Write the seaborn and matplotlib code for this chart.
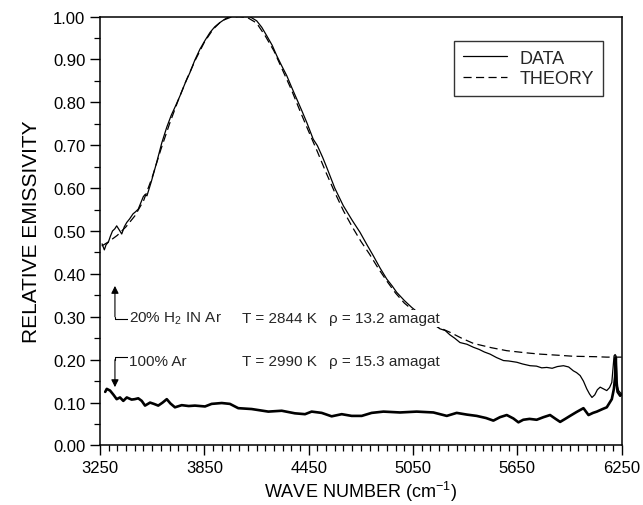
import numpy as np
import pandas as pd
import matplotlib
matplotlib.use("Agg")
import matplotlib.pyplot as plt
import seaborn as sns
from matplotlib.ticker import MultipleLocator, FormatStrFormatter

# ---------------- data ----------------
data_x = [3262, 3275, 3285, 3298, 3310, 3322, 3335, 3346, 3360, 3375, 3390, 3404, 3420, 3440, 3455,
          3470, 3485, 3499, 3509, 3520, 3545, 3576, 3605, 3634, 3660, 3685, 3710, 3740, 3768, 3795,
          3825, 3855, 3883, 3910, 3940, 3965, 3985, 4000, 4040, 4090, 4110, 4151, 4180, 4209, 4240,
          4266, 4295, 4324, 4352, 4381, 4410, 4439, 4476, 4500, 4530, 4554, 4600, 4649, 4700, 4745,
          4785, 4822, 4860, 4899, 4930, 4956, 5000, 5042, 5100, 5160, 5205, 5235, 5262, 5290, 5320,
          5360, 5397, 5430, 5460, 5493, 5530, 5570, 5600, 5647, 5680, 5723, 5760, 5790, 5819, 5850,
          5880, 5915, 5945, 5972, 5990, 6011, 6030, 6049, 6065, 6079, 6095, 6110, 6126, 6145, 6164,
          6180, 6193, 6200, 6206, 6212, 6217, 6221, 6224, 6232, 6240, 6250]
data_y = [0.470, 0.456, 0.468, 0.474, 0.488, 0.500, 0.505, 0.512, 0.503, 0.493, 0.510, 0.520, 0.528, 0.540, 0.545,
          0.551, 0.566, 0.580, 0.585, 0.582, 0.615, 0.660, 0.705, 0.742, 0.770, 0.792, 0.815, 0.845, 0.870, 0.898,
          0.924, 0.945, 0.963, 0.976, 0.986, 0.993, 0.998, 1.000, 1.000, 1.000, 1.000, 0.990, 0.975, 0.955, 0.933,
          0.909, 0.885, 0.862, 0.835, 0.808, 0.781, 0.753, 0.714, 0.699, 0.672, 0.648, 0.600, 0.559, 0.525, 0.497,
          0.468, 0.442, 0.414, 0.388, 0.372, 0.357, 0.338, 0.322, 0.303, 0.285, 0.272, 0.268, 0.258, 0.250, 0.240,
          0.236, 0.229, 0.224, 0.218, 0.213, 0.205, 0.198, 0.197, 0.194, 0.190, 0.186, 0.185, 0.181, 0.182, 0.180,
          0.184, 0.186, 0.183, 0.174, 0.170, 0.163, 0.150, 0.132, 0.120, 0.112, 0.118, 0.130, 0.136, 0.132, 0.128,
          0.135, 0.147, 0.180, 0.209, 0.212, 0.209, 0.170, 0.139, 0.128, 0.124, 0.120]

theory_x = [3260, 3300, 3350, 3400, 3450, 3500, 3550, 3600, 3650, 3700, 3750, 3800, 3850, 3900, 3950,
            4000, 4050, 4100, 4150, 4200, 4250, 4300, 4350, 4400, 4450, 4500, 4550, 4600, 4650, 4700,
            4750, 4800, 4850, 4900, 4950, 5000, 5050, 5100, 5150, 5200, 5262, 5330, 5397, 5500, 5589,
            5700, 5780, 5900, 5972, 6100, 6164, 6250]
theory_y = [0.465, 0.475, 0.490, 0.510, 0.535, 0.570, 0.625, 0.690, 0.750, 0.805, 0.855, 0.900, 0.940, 0.970, 0.990,
            0.998, 1.000, 0.997, 0.985, 0.955, 0.920, 0.875, 0.830, 0.780, 0.732, 0.685, 0.636, 0.590, 0.547, 0.510,
            0.476, 0.446, 0.413, 0.383, 0.355, 0.332, 0.315, 0.300, 0.287, 0.275, 0.264, 0.250, 0.238, 0.228, 0.221,
            0.216, 0.213, 0.210, 0.208, 0.207, 0.206, 0.206]

ar_x = [3280, 3289, 3308, 3328, 3346, 3365, 3384, 3404, 3432, 3450, 3470, 3490, 3509, 3538, 3560,
        3585, 3610, 3634, 3655, 3681, 3720, 3760, 3796, 3854, 3892, 3950, 3997, 4045, 4122, 4218,
        4295, 4371, 4429, 4467, 4525, 4582, 4640, 4697, 4755, 4812, 4880, 4975, 5071, 5167, 5244,
        5301, 5360, 5416, 5470, 5512, 5550, 5589, 5627, 5656, 5684, 5720, 5761, 5800, 5838, 5870,
        5896, 5925, 5953, 5990, 6030, 6059, 6085, 6107, 6140, 6164, 6193, 6205, 6212, 6216, 6220,
        6226, 6241, 6250]
ar_y = [0.125, 0.132, 0.128, 0.118, 0.108, 0.112, 0.104, 0.112, 0.107, 0.108, 0.110, 0.104, 0.093, 0.100, 0.097,
        0.093, 0.100, 0.108, 0.098, 0.089, 0.094, 0.092, 0.093, 0.091, 0.097, 0.099, 0.097, 0.087, 0.085, 0.079,
        0.081, 0.075, 0.073, 0.079, 0.076, 0.068, 0.073, 0.069, 0.069, 0.076, 0.079, 0.077, 0.079, 0.077, 0.069,
        0.076, 0.072, 0.069, 0.064, 0.058, 0.066, 0.071, 0.063, 0.054, 0.060, 0.062, 0.060, 0.066, 0.071, 0.062,
        0.055, 0.062, 0.069, 0.078, 0.087, 0.071, 0.076, 0.079, 0.085, 0.089, 0.108, 0.132, 0.160, 0.205, 0.150,
        0.125, 0.116, 0.120]

x_ticks = [3250, 3850, 4450, 5050, 5650, 6250]
y_ticks = [0.00, 0.10, 0.20, 0.30, 0.40, 0.50, 0.60, 0.70, 0.80, 0.90, 1.00]

# ---------------- style ----------------
sns.set_theme(style="ticks")
plt.rcParams['font.family'] = ['Liberation Sans', 'DejaVu Sans']
plt.rcParams['mathtext.fontset'] = 'custom'
plt.rcParams['mathtext.rm'] = 'Liberation Sans'
plt.rcParams['mathtext.it'] = 'Liberation Sans'
plt.rcParams['mathtext.default'] = 'regular'

fig = plt.figure(figsize=(6.43, 5.06), dpi=100)
ax = fig.add_axes([0.1555, 0.1176, 0.9669 - 0.1555, 0.9654 - 0.1176])

df_data = pd.DataFrame({"x": data_x, "y": data_y})
df_theory = pd.DataFrame({"x": theory_x, "y": theory_y})
df_ar = pd.DataFrame({"x": ar_x, "y": ar_y})

sns.lineplot(data=df_data, x="x", y="y", ax=ax, color="black", lw=0.9,
             sort=False, estimator=None, label="DATA", zorder=3)
sns.lineplot(data=df_theory, x="x", y="y", ax=ax, color="black", lw=0.9,
             sort=False, estimator=None, label="THEORY", zorder=2,
             linestyle=(0, (6.5, 3.5)))
sns.lineplot(data=df_ar, x="x", y="y", ax=ax, color="black", lw=1.9,
             sort=False, estimator=None, zorder=3)

ax.set_xlim(3250, 6250)
ax.set_ylim(0.0, 1.0)
ax.set_xticks(x_ticks)
ax.set_yticks(y_ticks)
ax.xaxis.set_minor_locator(MultipleLocator(50))
ax.yaxis.set_minor_locator(MultipleLocator(0.05))
ax.yaxis.set_major_formatter(FormatStrFormatter('%.2f'))
ax.tick_params(axis='both', which='major', direction='out', length=7, width=1.0,
               labelsize=12, color='black', labelcolor='black')
ax.tick_params(axis='both', which='minor', direction='out', length=4, width=0.9, color='black')
for s in ax.spines.values():
    s.set_visible(True)
    s.set_color('black')
    s.set_linewidth(1.1)

ax.set_xlabel("WAVE NUMBER (cm$^{-1}$)", fontsize=13, color='black', labelpad=3)
ax.set_ylabel("RELATIVE EMISSIVITY", fontsize=15, color='black', labelpad=9)

leg = ax.legend(loc='upper right', bbox_to_anchor=(0.964, 0.9436), borderaxespad=0,
                fontsize=13, frameon=True, fancybox=False, edgecolor='black',
                handlelength=2.4, borderpad=0.5, labelspacing=0.2, handletextpad=0.7)
leg.get_frame().set_linewidth(1.0)

# annotations
bb = dict(facecolor='white', edgecolor='none', pad=1.0)
ax.text(3418, 0.2965, "20% H$_2$ IN Ar", fontsize=11, va='center', ha='left', zorder=5, bbox=bb)
ax.text(4065, 0.2965, "T = 2844 K", fontsize=11, va='center', ha='left', zorder=5, bbox=bb)
ax.text(4567, 0.2965, "\u03c1 = 13.2 amagat", fontsize=11, va='center', ha='left', zorder=5, bbox=bb)
ax.text(3418, 0.1977, "100% Ar", fontsize=11, va='center', ha='left', zorder=5, bbox=bb)
ax.text(4065, 0.1977, "T = 2990 K", fontsize=11, va='center', ha='left', zorder=5, bbox=bb)
ax.text(4567, 0.1977, "\u03c1 = 15.3 amagat", fontsize=11, va='center', ha='left', zorder=5, bbox=bb)

arr = dict(arrowstyle='-|>', color='black', lw=0.8, mutation_scale=11, shrinkA=0, shrinkB=0)
ax.plot([3418, 3336, 3336], [0.295, 0.295, 0.30], color='black', lw=0.8)
ax.annotate("", xy=(3336, 0.372), xytext=(3336, 0.30), arrowprops=arr)
ax.plot([3418, 3336, 3336], [0.206, 0.206, 0.20], color='black', lw=0.8)
ax.annotate("", xy=(3336, 0.136), xytext=(3336, 0.20), arrowprops=arr)

fig.savefig("out.png", dpi=100)
